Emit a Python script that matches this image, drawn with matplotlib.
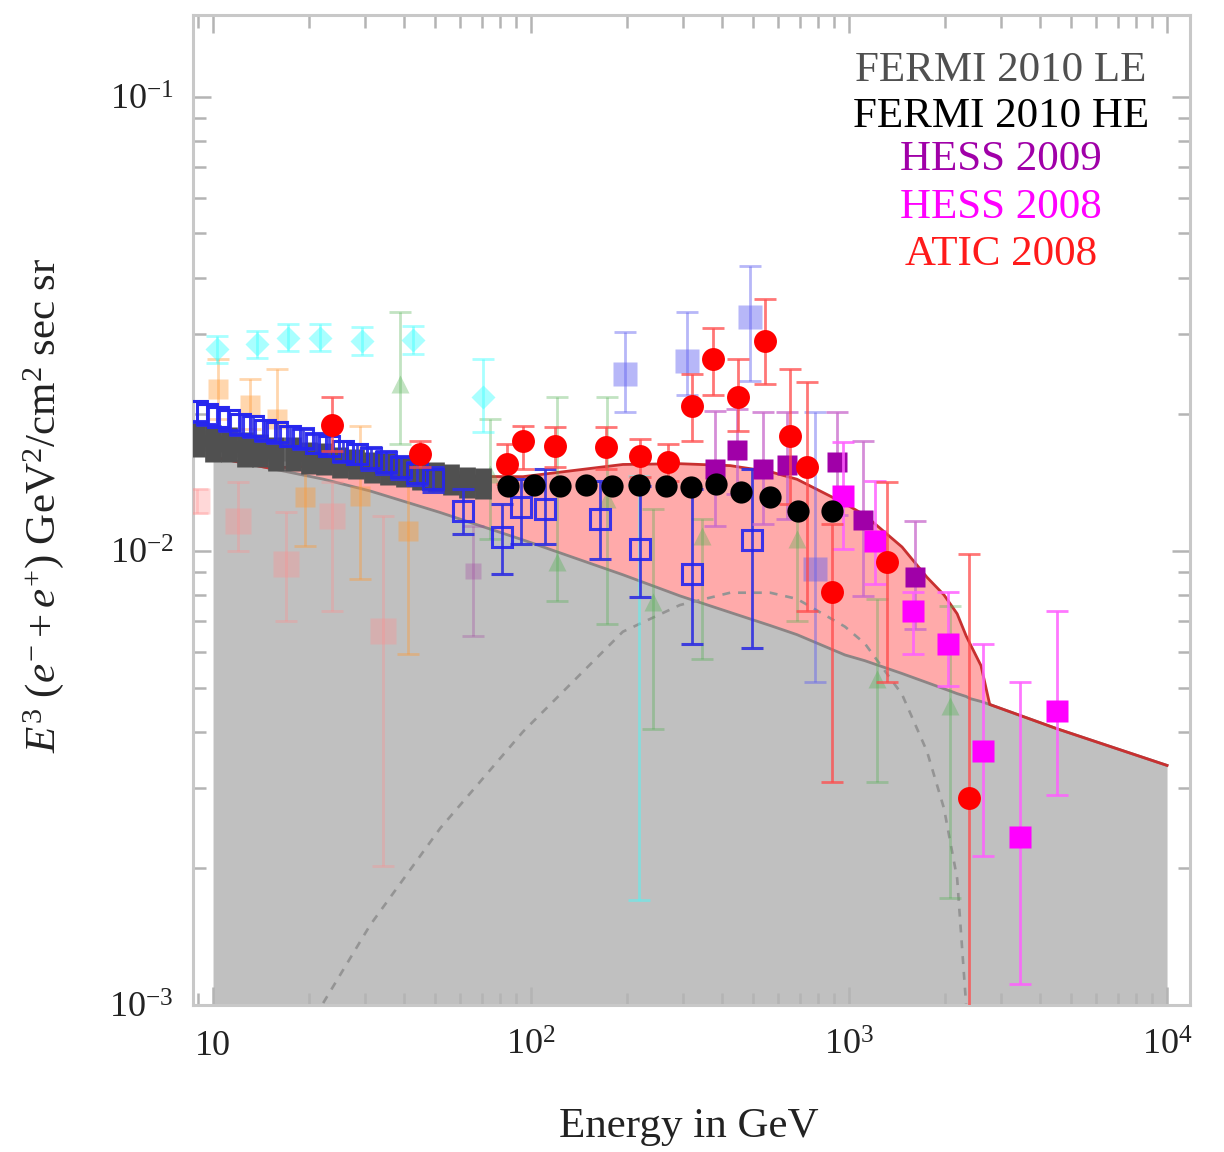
import numpy as np
import matplotlib
matplotlib.use("Agg")
import matplotlib.pyplot as plt
from matplotlib.ticker import LogLocator, NullFormatter

plt.rcParams['font.family'] = ['Liberation Serif', 'DejaVu Serif']
plt.rcParams['mathtext.fontset'] = 'custom'
plt.rcParams['mathtext.rm'] = 'Liberation Serif'
plt.rcParams['mathtext.it'] = 'Liberation Serif:italic'
plt.rcParams['mathtext.bf'] = 'Liberation Serif:bold'

# ---------------- model curves (GeV, E^3 flux) ----------------
model_energy = [10, 15, 22.2, 31.2, 51.8, 94.4, 194.5, 294, 423, 565, 686, 971,
                1122, 1468, 1758, 1989, 2188, 2335, 2400, 2600, 2770, 4500, 10000]
background_flux = [0.0161, 0.01522, 0.01439, 0.01355, 0.01215, 0.01057, 0.00886,
                   0.00796, 0.00732, 0.00685, 0.00654, 0.0059, 0.00573, 0.00537,
                   0.00513, 0.00497, 0.00485, 0.00478, 0.00473, 0.00466, 0.00459,
                   0.00406, 0.00337]
source_flux = [0, 0, 0.00101, 0.0015, 0.00245, 0.0040, 0.00664, 0.0076, 0.00809,
               0.00809, 0.00784, 0.00681, 0.00625, 0.00483, 0.00362, 0.00271,
               0.0019, 0.001, 0.0002, 0, 0, 0, 0]
total_flux = [0.0161, 0.01522, 0.0154, 0.01505, 0.0146, 0.01457, 0.0155, 0.01556,
              0.01541, 0.01494, 0.01438, 0.01271, 0.01198, 0.0102, 0.00875, 0.0080,
              0.00727, 0.0065, 0.00625, 0.00559, 0.00459, 0.00406, 0.00337]

# ---------------- data sets: energy, flux, upper, lower ----------------
fermi_le_energy = [8.9, 10, 11.2, 12.6, 14.1, 15.8, 17.8, 20, 22.4, 25.1, 28.2,
                   31.6, 35.5, 39.8, 44.7, 50.1, 56.2, 63.1, 70.8]
fermi_le_flux = [0.0177, 0.0173, 0.0172, 0.0168, 0.0167, 0.0164, 0.0164, 0.0161,
                 0.0160, 0.0157, 0.0156, 0.0153, 0.0152, 0.0150, 0.0147, 0.0146,
                 0.0144, 0.0142, 0.0141]
fermi_le_err = [0.0016, 0.0016, 0.0015, 0.0015, 0.0014, 0.0014, 0.0014, 0.0013,
                0.0013, 0.0012, 0.0012, 0.0012, 0.0012, 0.0012, 0.0011, 0.0011,
                0.0011, 0.0011, 0.0011]

fermi_he_energy = [84.7, 102, 123, 149, 180, 219, 266, 319, 382, 457, 564, 692, 885]
fermi_he_flux = [0.0139, 0.0140, 0.0139, 0.0140, 0.0139, 0.0140, 0.0139, 0.01382,
                 0.01403, 0.01348, 0.01314, 0.01224, 0.01224]

atic_energy = [23.7, 44.8, 84.1, 94.4, 118.9, 172, 220, 270, 321, 373, 448, 545,
               652, 738, 885, 1315, 2382]
atic_flux = [0.0189, 0.01633, 0.01553, 0.01746, 0.01703, 0.01694, 0.0162, 0.0157,
             0.02085, 0.0264, 0.0218, 0.0290, 0.0179, 0.0153, 0.00812, 0.00946,
             0.00285]
atic_upper = [0.0218, 0.01746, 0.01718, 0.01883, 0.01873, 0.01873, 0.0176, 0.01718,
              0.0245, 0.0310, 0.0264, 0.0358, 0.0251, 0.0235, 0.01146, 0.0142,
              0.00985]
atic_lower = [0.0166, 0.0153, 0.01403, 0.01514, 0.0153, 0.01514, 0.01454, 0.01425,
              0.01746, 0.0221, 0.01836, 0.0233, 0.01268, 0.00738, 0.0031, 0.00515,
              0.0005]

hess09_energy = [379, 445, 537, 638, 916, 1107, 1614]
hess09_flux = [0.01514, 0.01667, 0.01514, 0.01546, 0.0157, 0.0117, 0.00877]
hess09_upper = [0.0203, 0.0205, 0.0202, 0.0202, 0.0202, 0.01746, 0.01164]
hess09_lower = [0.01135, 0.01334, 0.01146, 0.01176, 0.0120, 0.00796, 0.00674]

hess08_energy = [957, 1208, 1589, 2046, 2636, 3451, 4508]
hess08_flux = [0.01321, 0.01052, 0.00738, 0.00625, 0.00362, 0.00235, 0.00445]
hess08_upper = [0.01736, 0.01425, 0.00813, 0.00813, 0.00625, 0.00515, 0.00738]
hess08_lower = [0.0101, 0.00846, 0.00594, 0.00505, 0.00213, 0.00111, 0.0029]

blue_energy = [8.91, 9.58, 10.4, 11.2, 12.2, 13.4, 14.6, 15.9, 17.5, 19.2, 21.1,
               23.2, 25.6, 28.4, 31.4, 35.0, 39.0, 43.8, 49.2,
               61.1, 81.1, 93.1, 110.7, 165, 220, 321, 495]
blue_flux = [0.0203, 0.0200, 0.0197, 0.0194, 0.0190, 0.01883, 0.01845, 0.01826,
             0.01789, 0.0177, 0.01725, 0.01702, 0.0166, 0.01633, 0.0160, 0.01569,
             0.0153, 0.01484, 0.01439,
             0.01225, 0.01074, 0.01249, 0.01237, 0.01176, 0.0101, 0.0089, 0.01057]
blue_upper = [0.0214, 0.0211, 0.0207, 0.0204, 0.0200, 0.0198, 0.0194, 0.0192,
              0.0188, 0.0186, 0.0181, 0.0179, 0.0175, 0.0172, 0.0169, 0.0166,
              0.0162, 0.0157, 0.0153,
              0.01369, 0.01268, 0.01439, 0.01514, 0.01425, 0.0139, 0.01369, 0.01514]
blue_lower = [0.0192, 0.0189, 0.0187, 0.0184, 0.0180, 0.0178, 0.0175, 0.0173,
              0.0170, 0.0168, 0.0164, 0.0162, 0.0157, 0.0155, 0.0151, 0.0148,
              0.0144, 0.0140, 0.0135,
              0.0109, 0.0089, 0.01036, 0.01036, 0.0096, 0.00792, 0.00625, 0.0061]

lightblue_energy = [198, 310, 489, 782]
lightblue_flux = [0.0245, 0.0262, 0.0327, 0.00913]
lightblue_upper = [0.0304, 0.0336, 0.0423, 0.0202]
lightblue_lower = [0.0202, 0.0221, 0.0237, 0.00515]

cyan_energy = [10.3, 13.7, 17.2, 21.7, 29.4, 42.6, 70.6, 219]
cyan_flux = [0.0278, 0.0285, 0.0295, 0.0295, 0.0290, 0.0292, 0.0218, 0.0140]
cyan_upper = [0.0298, 0.0305, 0.0316, 0.0316, 0.0311, 0.0313, 0.0264, 0.0146]
cyan_lower = [0.0259, 0.0266, 0.0275, 0.0275, 0.0270, 0.0272, 0.01826, 0.0017]

green_energy = [38.7, 74.3, 120.8, 173, 242, 345, 686, 1225, 2080]
green_flux = [0.0233, 0.01476, 0.00946, 0.01301, 0.00773, 0.01079, 0.01063,
              0.00523, 0.00456]
green_upper = [0.0335, 0.0195, 0.0218, 0.0218, 0.01237, 0.01176, 0.01225,
               0.00784, 0.00757]
green_lower = [0.01718, 0.01063, 0.00776, 0.00691, 0.00406, 0.00579, 0.00702,
               0.0031, 0.00172]

orange_energy = [10.4, 13.1, 15.9, 19.5, 29.0, 41.0]
orange_flux = [0.0227, 0.0210, 0.0195, 0.01314, 0.0132, 0.01107]
orange_upper = [0.0264, 0.0239, 0.0251, 0.01633, 0.01883, 0.01439]
orange_lower = [0.0195, 0.01853, 0.01718, 0.01026, 0.00868, 0.00594]

pink_energy = [8.91, 12.0, 17.0, 23.7, 34.3]
pink_flux = [0.01288, 0.01164, 0.00936, 0.01194, 0.00667]
pink_upper = [0.01369, 0.0142, 0.01218, 0.0142, 0.01194]
pink_lower = [0.0121, 0.0100, 0.00702, 0.00738, 0.00202]

violet_energy = [65.8]
violet_flux = [0.00904]
violet_upper = [0.01135]
violet_lower = [0.0065]

legend_labels = ["FERMI 2010 LE", "FERMI 2010 HE", "HESS 2009", "HESS 2008", "ATIC 2008"]
legend_colors = ["#505050", "#000000", "#a000a8", "#ff00ff", "#ff1a1a"]

x_tick_values = [10, 100, 1000, 10000]
x_tick_labels = ["10", r"$10^2$", r"$10^3$", r"$10^4$"]
y_tick_values = [1e-3, 1e-2, 1e-1]
y_tick_labels = [r"$10^{-3}$", r"$10^{-2}$", r"$10^{-1}$"]


def yerr(flux, upper, lower):
    f = np.asarray(flux)
    return [f - np.asarray(lower), np.asarray(upper) - f]


fig = plt.figure(figsize=(12.24, 11.52), dpi=100)
ax = fig.add_axes([0.15768, 0.12760, 0.81454, 0.85938])
ax.set_xscale('log')
ax.set_yscale('log')
ax.set_xlim(8.65, 11810)
ax.set_ylim(1e-3, 0.1514)

# model bands
me = np.asarray(model_energy)
bg = np.asarray(background_flux)
tot = np.asarray(total_flux)
src = np.asarray(source_flux)
ax.fill_between(me, 1e-4, bg, color='#c0c0c0', lw=0, zorder=1)
ax.fill_between(me, bg, tot, color='#ffaaaa', lw=0, zorder=1.1)
ax.plot(me, bg, color='#8c8484', lw=2.0, zorder=1.2)
ax.plot(me, tot, color='#c83030', lw=2.0, zorder=1.3)
mask = src > 0
ax.plot(me[mask], src[mask], color='#949494', lw=1.9, ls=(0, (3, 3)), zorder=1.4)

# faint comparison data
eb = dict(capsize=8, capthick=2.0, elinewidth=2.0, linestyle='none')
ax.errorbar(pink_energy, pink_flux, yerr=yerr(pink_flux, pink_upper, pink_lower),
            fmt='s', ms=19, color='#ff9090', mec='none', alpha=0.35, zorder=3, **eb)
ax.errorbar(orange_energy, orange_flux, yerr=yerr(orange_flux, orange_upper, orange_lower),
            fmt='s', ms=14, color='#ff9933', mec='none', alpha=0.4, zorder=3, **eb)
ax.errorbar(violet_energy, violet_flux, yerr=yerr(violet_flux, violet_upper, violet_lower),
            fmt='s', ms=12, color='#a040a0', mec='none', alpha=0.3, zorder=3, **eb)
ax.errorbar(green_energy, green_flux, yerr=yerr(green_flux, green_upper, green_lower),
            fmt='^', ms=13, color='#50b050', mec='none', alpha=0.35, zorder=3, **eb)
ax.errorbar(cyan_energy, cyan_flux, yerr=yerr(cyan_flux, cyan_upper, cyan_lower),
            fmt='D', ms=12, color='#40ffff', mec='none', alpha=0.45, zorder=3, **eb)
ax.errorbar(lightblue_energy, lightblue_flux,
            yerr=yerr(lightblue_flux, lightblue_upper, lightblue_lower),
            fmt='s', ms=17, color='#6060f0', mec='none', alpha=0.45, zorder=3, **eb)

# FERMI low energy
ax.errorbar(fermi_le_energy, fermi_le_flux, yerr=fermi_le_err, fmt='s', ms=11,
            color='#505050', mec='none', elinewidth=12, capsize=0,
            linestyle='none', zorder=4)

# open blue squares
ax.errorbar(blue_energy, blue_flux, yerr=yerr(blue_flux, blue_upper, blue_lower),
            fmt='s', ms=14, mfc='none', mec='#2525f0', mew=2.2, color='#3030e0',
            alpha=0.9, zorder=5, **eb)

# HESS 2009
ax.errorbar(hess09_energy, hess09_flux, yerr=yerr(hess09_flux, hess09_upper, hess09_lower),
            fmt='none', ecolor='#c868cc', alpha=0.75, zorder=6, **eb)
ax.plot(hess09_energy, hess09_flux, 's', ms=14.5, color='#a000a8', mec='none', zorder=6.1)

# HESS 2008
ax.errorbar(hess08_energy, hess08_flux, yerr=yerr(hess08_flux, hess08_upper, hess08_lower),
            fmt='none', ecolor='#ff60ff', alpha=0.85, zorder=6.2, **eb)
ax.plot(hess08_energy, hess08_flux, 's', ms=16.5, color='#ff00ff', mec='none', zorder=6.3)

# ATIC 2008
ax.errorbar(atic_energy, atic_flux, yerr=yerr(atic_flux, atic_upper, atic_lower),
            fmt='none', ecolor='#ff4a4a', alpha=0.75, zorder=7, **eb)
ax.plot(atic_energy, atic_flux, 'o', ms=16.5, color='#ff0000', mec='none', zorder=7.1)

# FERMI high energy
ax.plot(fermi_he_energy, fermi_he_flux, 'o', ms=16, color='#000000', mec='none', zorder=8)

# legend as coloured text
legend_y = [0.9434, 0.897, 0.8535, 0.805, 0.7576]
for label, col, yy in zip(legend_labels, legend_colors, legend_y):
    ax.text(0.8104, yy, label, color=col, fontsize=31, ha='center', va='center',
            transform=ax.transAxes, zorder=10)

# axes styling
for sp in ax.spines.values():
    sp.set_color('#c8c8c8')
    sp.set_linewidth(2.2)
ax.set_xticks(x_tick_values)
ax.set_xticklabels(x_tick_labels)
ax.set_yticks(y_tick_values)
ax.set_yticklabels(y_tick_labels)
ax.xaxis.set_minor_locator(LogLocator(base=10, subs=np.arange(2, 10)))
ax.yaxis.set_minor_locator(LogLocator(base=10, subs=np.arange(2, 10)))
ax.xaxis.set_minor_formatter(NullFormatter())
ax.yaxis.set_minor_formatter(NullFormatter())
ax.tick_params(which='both', direction='in', top=True, right=True,
               color='#b4b4b4', width=1.8, labelcolor='#222222', labelsize=26)
ax.tick_params(which='major', length=13)
ax.tick_params(which='minor', length=9)
ax.tick_params(axis='x', which='major', pad=18)
ax.tick_params(axis='y', which='major', pad=14)

ax.set_xlabel('Energy in GeV', fontsize=31, color='#222222')
ax.xaxis.set_label_coords(0.4975, -0.104)
ax.set_ylabel(r'$E^3\ (e^{-}+e^{+})\ \mathrm{GeV}^2/\mathrm{cm}^2\ \mathrm{sec\ sr}$',
              fontsize=31, color='#222222')
ax.yaxis.set_label_coords(-0.127, 0.505)

fig.savefig('out.png', dpi=100)
